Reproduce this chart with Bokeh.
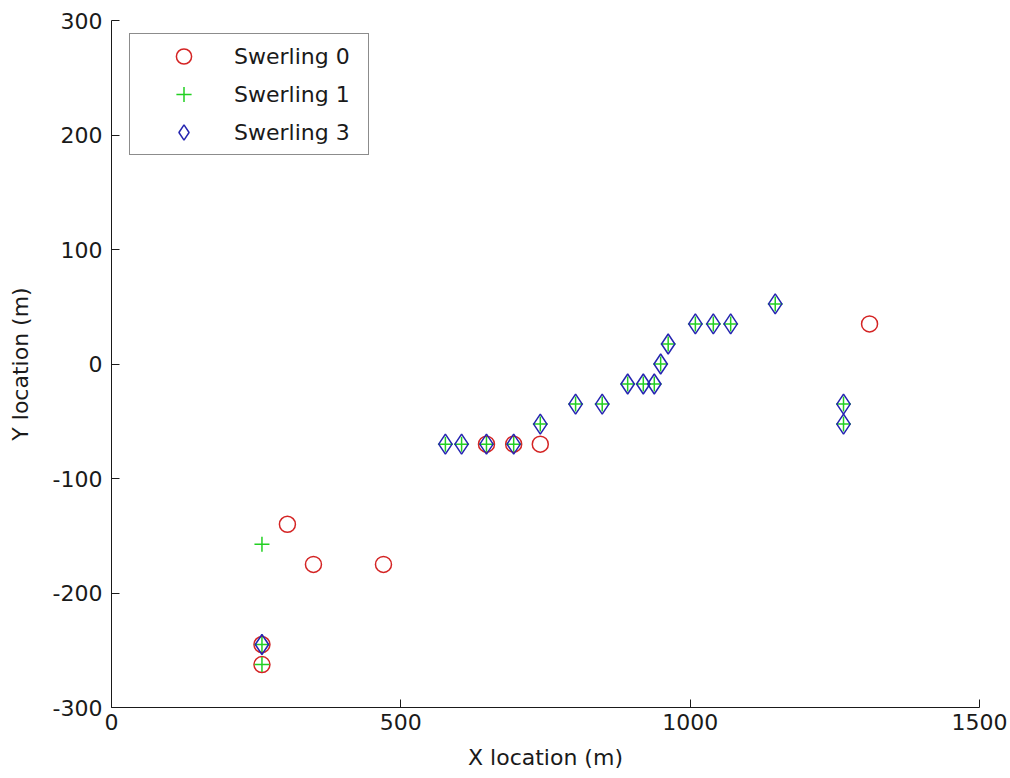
from bokeh.plotting import figure
from bokeh.models import Range1d, FixedTicker, Legend, LegendItem
from bokeh.embed import file_html
from bokeh.resources import INLINE

# Detected target locations per Swerling model (metres)
sw0_x = [304, 349, 470, 260, 260, 648, 695, 741, 1310]
sw0_y = [-140, -175, -175, -262.5, -245, -70, -70, -70, 35]

sw1_x = [260, 260, 260, 577, 605, 648, 695, 741, 802, 848, 892, 919, 938,
         949, 962, 1009, 1040, 1070, 1147, 1265, 1265]
sw1_y = [-157.5, -262.5, -245, -70, -70, -70, -70, -52.5, -35, -35, -17.5, -17.5, -17.5,
         0, 17.5, 35, 35, 35, 52.5, -35, -52.5]

sw3_x = [260, 577, 605, 648, 695, 741, 802, 848, 892, 919, 938,
         949, 962, 1009, 1040, 1070, 1147, 1265, 1265]
sw3_y = [-245, -70, -70, -70, -70, -52.5, -35, -35, -17.5, -17.5, -17.5,
         0, 17.5, 35, 35, 35, 52.5, -35, -52.5]

x_ticks = [0, 500, 1000, 1500]
y_ticks = [-300, -200, -100, 0, 100, 200, 300]

FONT = "DejaVu Sans"
TXT = "22px"
INK = "#1a1a1a"

p = figure(width=1010, height=778, output_backend="svg", toolbar_location=None,
           x_range=Range1d(0, 1500), y_range=Range1d(-300, 300),
           min_border_left=111, min_border_right=31, min_border_top=20,
           min_border_bottom=71)

p.outline_line_color = None
p.grid.grid_line_color = None
p.background_fill_color = "white"
p.border_fill_color = "white"

p.xaxis.ticker = FixedTicker(ticks=x_ticks)
p.yaxis.ticker = FixedTicker(ticks=y_ticks)
# plain ASCII hyphen for negative tick values
p.xaxis.major_label_overrides = {t: str(t) for t in x_ticks}
p.yaxis.major_label_overrides = {t: str(t) for t in y_ticks}
p.xaxis.axis_label = "X location (m)"
p.yaxis.axis_label = "Y location (m)"

for ax in (p.xaxis, p.yaxis):
    ax.major_tick_in = 8
    ax.major_tick_out = 0
    ax.minor_tick_line_color = None
    ax.axis_line_color = INK
    ax.major_tick_line_color = INK
    ax.major_label_text_font = FONT
    ax.major_label_text_font_size = TXT
    ax.major_label_text_color = INK
    ax.axis_label_text_font = FONT
    ax.axis_label_text_font_size = TXT
    ax.axis_label_text_font_style = "normal"
    ax.axis_label_text_color = INK

p.xaxis.major_label_standoff = 6
p.xaxis.axis_label_standoff = 12
p.yaxis.major_label_standoff = 9
p.yaxis.axis_label_standoff = 17

r0 = p.scatter(sw0_x, sw0_y, marker="circle", size=16, fill_color=None,
               line_color="#d42424", line_width=1.5)
r1 = p.scatter(sw1_x, sw1_y, marker="cross", size=15, line_color="#22d022",
               line_width=1.5)
r3 = p.scatter(sw3_x, sw3_y, marker="diamond", size=20, fill_color=None,
               line_color="#2525b0", line_width=1.5)

legend = Legend(items=[LegendItem(label="Swerling 0", renderers=[r0]),
                       LegendItem(label="Swerling 1", renderers=[r1]),
                       LegendItem(label="Swerling 3", renderers=[r3])],
                location=(18, 552))
legend.label_text_font = FONT
legend.label_text_font_size = TXT
legend.label_text_color = INK
legend.glyph_height = 38
legend.glyph_width = 101
legend.label_height = 38
legend.label_width = 131
legend.label_standoff = 0
legend.spacing = 0
legend.padding = 3
legend.margin = 0
legend.border_line_color = INK
legend.border_line_width = 1
legend.background_fill_color = "white"
legend.background_fill_alpha = 1
p.add_layout(legend)

open("out.html", "w").write(file_html(p, INLINE))
